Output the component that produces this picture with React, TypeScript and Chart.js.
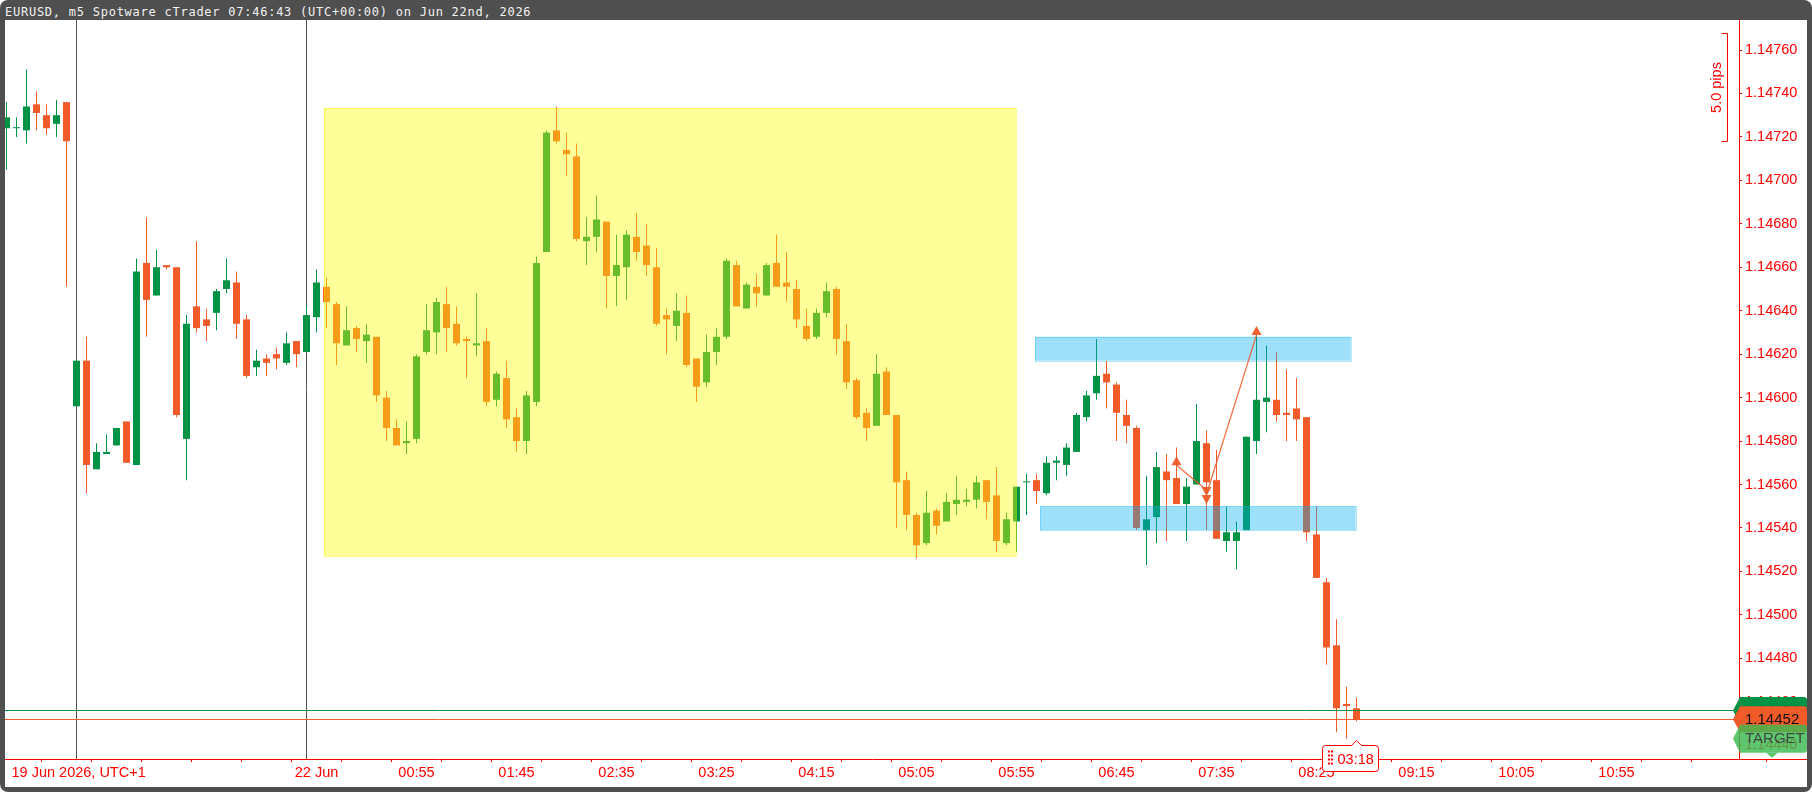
import React, { useEffect, useRef } from 'react';
import { Chart, registerables } from 'chart.js';

Chart.register(...registerables);

const TITLE = 'EURUSD, m5 Spotware cTrader 07:46:43 (UTC+00:00) on Jun 22nd, 2026';

const opens = [
  1.14724, 1.14724, 1.14723, 1.14735, 1.14730, 1.14726, 1.14736, 1.14596, 1.14617, 1.14567,
  1.14574, 1.14578, 1.14589, 1.14569, 1.14662, 1.14647, 1.14661, 1.14660, 1.14581, 1.14642,
  1.14636, 1.14639, 1.14650, 1.14653, 1.14636, 1.14614, 1.14618, 1.14620, 1.14616, 1.14626,
  1.14621, 1.14637, 1.14651, 1.14643, 1.14624, 1.14632, 1.14626, 1.14628, 1.14600, 1.14586,
  1.14579, 1.14581, 1.14621, 1.14630, 1.14643, 1.14634, 1.14627, 1.14624, 1.14626, 1.14599,
  1.14609, 1.14591, 1.14580, 1.14598, 1.14667, 1.14723, 1.14714, 1.14711, 1.14672, 1.14674,
  1.14681, 1.14656, 1.14660, 1.14674, 1.14670, 1.14660, 1.14638, 1.14633, 1.14639, 1.14618,
  1.14607, 1.14621, 1.14628, 1.14661, 1.14641, 1.14651, 1.14647, 1.14662, 1.14653, 1.14650,
  1.14633, 1.14628, 1.14639, 1.14650, 1.14626, 1.14608, 1.14593, 1.14587, 1.14612, 1.14592,
  1.14562, 1.14546, 1.14533, 1.14548, 1.14543, 1.14551, 1.14552, 1.14553, 1.14562, 1.14555,
  1.14533, 1.14543, 1.14561, 1.14562, 1.14556, 1.14570, 1.14569, 1.14575, 1.14591, 1.14602,
  1.14611, 1.14606, 1.14592, 1.14586, 1.14539, 1.14545, 1.14566, 1.14563, 1.14551, 1.14560,
  1.14579, 1.14562, 1.14534, 1.14534, 1.14539, 1.14580, 1.14598, 1.14599, 1.14593, 1.14595,
  1.14591, 1.14537, 1.14515, 1.14486, 1.14459, 1.14457,
];
const highs = [
  1.14736, 1.14729, 1.14751, 1.14741, 1.14735, 1.14737, 1.14736, 1.14617, 1.14628, 1.14579,
  1.14583, 1.14586, 1.14589, 1.14664, 1.14683, 1.14668, 1.14661, 1.14660, 1.14638, 1.14672,
  1.14641, 1.14650, 1.14664, 1.14658, 1.14638, 1.14622, 1.14620, 1.14623, 1.14630, 1.14626,
  1.14642, 1.14659, 1.14655, 1.14644, 1.14642, 1.14633, 1.14634, 1.14628, 1.14603, 1.14590,
  1.14589, 1.14620, 1.14643, 1.14646, 1.14651, 1.14642, 1.14628, 1.14648, 1.14632, 1.14612,
  1.14617, 1.14595, 1.14603, 1.14665, 1.14723, 1.14734, 1.14722, 1.14717, 1.14683, 1.14693,
  1.14681, 1.14675, 1.14677, 1.14685, 1.14680, 1.14669, 1.14641, 1.14648, 1.14647, 1.14618,
  1.14629, 1.14632, 1.14664, 1.14663, 1.14653, 1.14657, 1.14662, 1.14675, 1.14667, 1.14654,
  1.14641, 1.14641, 1.14653, 1.14651, 1.14634, 1.14609, 1.14595, 1.14620, 1.14614, 1.14592,
  1.14566, 1.14547, 1.14557, 1.14549, 1.14556, 1.14564, 1.14558, 1.14564, 1.14562, 1.14568,
  1.14547, 1.14559, 1.14565, 1.14565, 1.14573, 1.14573, 1.14579, 1.14593, 1.14603, 1.14627,
  1.14617, 1.14607, 1.14599, 1.14587, 1.14564, 1.14575, 1.14574, 1.14577, 1.14563, 1.14597,
  1.14585, 1.14576, 1.14550, 1.14543, 1.14582, 1.14629, 1.14624, 1.14621, 1.14613, 1.14609,
  1.14591, 1.14550, 1.14517, 1.14498, 1.14467, 1.14462,
];
const lows = [
  1.14705, 1.14720, 1.14717, 1.14723, 1.14721, 1.14720, 1.14651, 1.14596, 1.14556, 1.14567,
  1.14574, 1.14578, 1.14570, 1.14569, 1.14628, 1.14647, 1.14659, 1.14591, 1.14562, 1.14630,
  1.14626, 1.14631, 1.14648, 1.14627, 1.14609, 1.14610, 1.14610, 1.14613, 1.14615, 1.14614,
  1.14621, 1.14630, 1.14632, 1.14615, 1.14624, 1.14621, 1.14616, 1.14598, 1.14580, 1.14578,
  1.14574, 1.14579, 1.14620, 1.14620, 1.14621, 1.14624, 1.14609, 1.14619, 1.14596, 1.14596,
  1.14586, 1.14575, 1.14574, 1.14596, 1.14667, 1.14717, 1.14702, 1.14672, 1.14661, 1.14667,
  1.14641, 1.14642, 1.14645, 1.14663, 1.14656, 1.14633, 1.14620, 1.14626, 1.14614, 1.14598,
  1.14605, 1.14615, 1.14627, 1.14642, 1.14641, 1.14642, 1.14647, 1.14651, 1.14644, 1.14632,
  1.14626, 1.14627, 1.14637, 1.14620, 1.14604, 1.14590, 1.14580, 1.14587, 1.14592, 1.14540,
  1.14539, 1.14526, 1.14532, 1.14537, 1.14543, 1.14546, 1.14550, 1.14549, 1.14544, 1.14529,
  1.14532, 1.14529, 1.14546, 1.14551, 1.14555, 1.14562, 1.14564, 1.14575, 1.14589, 1.14599,
  1.14595, 1.14580, 1.14579, 1.14539, 1.14523, 1.14533, 1.14534, 1.14551, 1.14534, 1.14560,
  1.14539, 1.14535, 1.14529, 1.14521, 1.14539, 1.14574, 1.14584, 1.14589, 1.14580, 1.14580,
  1.14534, 1.14517, 1.14477, 1.14446, 1.14443, 1.14451,
];
const closes = [
  1.14729, 1.14724, 1.14734, 1.14731, 1.14724, 1.14730, 1.14718, 1.14617, 1.14569, 1.14575,
  1.14575, 1.14586, 1.14570, 1.14658, 1.14645, 1.14660, 1.14660, 1.14592, 1.14634, 1.14632,
  1.14633, 1.14649, 1.14654, 1.14634, 1.14610, 1.14617, 1.14616, 1.14618, 1.14625, 1.14620,
  1.14638, 1.14653, 1.14644, 1.14625, 1.14631, 1.14627, 1.14629, 1.14601, 1.14586, 1.14578,
  1.14580, 1.14619, 1.14631, 1.14644, 1.14632, 1.14625, 1.14626, 1.14625, 1.14598, 1.14611,
  1.14590, 1.14580, 1.14601, 1.14662, 1.14722, 1.14718, 1.14712, 1.14673, 1.14674, 1.14682,
  1.14656, 1.14661, 1.14675, 1.14667, 1.14661, 1.14634, 1.14636, 1.14640, 1.14615, 1.14605,
  1.14621, 1.14628, 1.14663, 1.14642, 1.14652, 1.14648, 1.14661, 1.14651, 1.14651, 1.14636,
  1.14627, 1.14639, 1.14649, 1.14627, 1.14607, 1.14591, 1.14586, 1.14611, 1.14592, 1.14561,
  1.14546, 1.14532, 1.14547, 1.14541, 1.14552, 1.14553, 1.14553, 1.14561, 1.14552, 1.14534,
  1.14544, 1.14559, 1.14561, 1.14557, 1.14570, 1.14571, 1.14577, 1.14592, 1.14601, 1.14610,
  1.14607, 1.14593, 1.14587, 1.14540, 1.14544, 1.14568, 1.14562, 1.14551, 1.14559, 1.14580,
  1.14561, 1.14535, 1.14538, 1.14538, 1.14582, 1.14599, 1.14600, 1.14592, 1.14592, 1.14590,
  1.14538, 1.14517, 1.14485, 1.14457, 1.14458, 1.14452,
];

const priceTicks = [
  1.1444, 1.1446, 1.1448, 1.145, 1.1452, 1.1454, 1.1456, 1.1458, 1.146, 1.1462,
  1.1464, 1.1466, 1.1468, 1.147, 1.1472, 1.1474, 1.1476,
];
const timeTickIdx = [
  1, 6, 11, 16, 21, 26, 31, 36, 41, 46, 51, 56, 61, 66, 71, 76, 81, 86, 91, 96,
  101, 106, 111, 116, 121, 126, 131, 136, 141, 146, 151, 156, 161, 166, 171, 176,
];
const timeLabelIdx = [31, 41, 51, 61, 71, 81, 91, 101, 111, 121, 131, 141, 151, 161];
const timeLabelText = ['22 Jun', '00:55', '01:45', '02:35', '03:25', '04:15', '05:05', '05:55', '06:45', '07:35', '08:25', '09:15', '10:05', '10:55'];
const firstDateLabel = '19 Jun 2026, UTC+1';
const separatorIdx = [7, 30];

const yellowZone = { from: 31.75, to: 100.95, top: 1.147333, bottom: 1.145271 };
const blueZones = [
  { from: 102.85, to: 134.42, top: 1.14628, bottom: 1.14617 },
  { from: 103.35, to: 134.92, top: 1.1455, bottom: 1.14539 },
];
const zigzagIdx = [117, 120, 125];
const zigzagPrice = [1.14573, 1.14551, 1.14633];
const askPrice = 1.14456;
const bidPrice = 1.14452;
const targetPrice = 1.14443;
const rulerTop = 1.14768;
const rulerBottom = 1.14718;
const rulerText = '5.0 pips';
const countdownText = '03:18';

const GREEN = '#009245';
const BEAR = '#f15a29';
const AXIS_RED = '#ff0000';
const FONT = '"Liberation Sans", Arial, sans-serif';
const FONT_SIZE = 14.5;

const candleColors = opens.map((o, i) => (closes[i] >= o ? GREEN : BEAR));

function tri(ctx: CanvasRenderingContext2D, cx: number, tipY: number, dir: number) {
  const w = 10;
  const h = 9;
  ctx.beginPath();
  ctx.moveTo(cx, tipY);
  ctx.lineTo(cx - w / 2, tipY - dir * h);
  ctx.lineTo(cx + w / 2, tipY - dir * h);
  ctx.closePath();
  ctx.fill();
}

function tag(ctx: CanvasRenderingContext2D, yPix: number, left: number, right: number, h: number) {
  const r = 3;
  ctx.beginPath();
  ctx.moveTo(left, yPix);
  ctx.lineTo(left + 7, yPix - h / 2);
  ctx.lineTo(right - r, yPix - h / 2);
  ctx.quadraticCurveTo(right, yPix - h / 2, right, yPix - h / 2 + r);
  ctx.lineTo(right, yPix + h / 2 - r);
  ctx.quadraticCurveTo(right, yPix + h / 2, right - r, yPix + h / 2);
  ctx.lineTo(left + 7, yPix + h / 2);
  ctx.closePath();
  ctx.fill();
}

const overlayPlugin = {
  id: 'overlays',
  beforeDatasetsDraw(chart: any) {
    const { ctx, chartArea: a, scales } = chart;
    const x = scales.x;
    ctx.save();
    ctx.strokeStyle = '#555555';
    ctx.lineWidth = 1;
    for (const i of separatorIdx) {
      const px = x.getPixelForValue(i);
      ctx.beginPath();
      ctx.moveTo(px, a.top);
      ctx.lineTo(px, a.bottom);
      ctx.stroke();
    }
    ctx.restore();
  },
  afterDatasetsDraw(chart: any) {
    const { ctx, chartArea: a, scales } = chart;
    const x = scales.x;
    const y = scales.y;
    ctx.save();
    ctx.beginPath();
    ctx.rect(a.left, a.top, a.right - a.left, a.bottom - a.top);
    ctx.clip();

    {
      const x1 = x.getPixelForValue(yellowZone.from);
      const x2 = x.getPixelForValue(yellowZone.to);
      const y1 = y.getPixelForValue(yellowZone.top);
      const y2 = y.getPixelForValue(yellowZone.bottom);
      ctx.fillStyle = 'rgba(255,255,0,0.4)';
      ctx.fillRect(x1, y1, x2 - x1, y2 - y1);
      ctx.strokeStyle = 'rgba(255,240,0,0.45)';
      ctx.lineWidth = 1;
      ctx.strokeRect(Math.round(x1) + 0.5, Math.round(y1) + 0.5, Math.round(x2 - x1), Math.round(y2 - y1));
    }
    for (const z of blueZones) {
      const x1 = x.getPixelForValue(z.from);
      const x2 = x.getPixelForValue(z.to);
      const y1 = y.getPixelForValue(z.top);
      const y2 = y.getPixelForValue(z.bottom);
      ctx.fillStyle = 'rgba(0,174,239,0.38)';
      ctx.fillRect(x1, y1, x2 - x1, y2 - y1);
      ctx.strokeStyle = 'rgba(0,174,239,0.3)';
      ctx.lineWidth = 1;
      ctx.strokeRect(Math.round(x1) + 0.5, Math.round(y1) + 0.5, Math.round(x2 - x1), Math.round(y2 - y1));
    }
    {
      const ax = x.getPixelForValue(zigzagIdx[0]);
      const ay = y.getPixelForValue(zigzagPrice[0]);
      const bx = x.getPixelForValue(zigzagIdx[1]);
      const by = y.getPixelForValue(zigzagPrice[1]);
      const cx = x.getPixelForValue(zigzagIdx[2]);
      const cy = y.getPixelForValue(zigzagPrice[2]);
      ctx.strokeStyle = 'rgba(241,90,41,0.9)';
      ctx.fillStyle = 'rgba(241,90,41,0.95)';
      ctx.lineWidth = 1.2;
      ctx.beginPath();
      ctx.moveTo(ax, ay + 9);
      ctx.lineTo(bx, by - 14);
      ctx.stroke();
      ctx.beginPath();
      ctx.moveTo(bx + 2, by - 16);
      ctx.lineTo(cx, cy + 9);
      ctx.stroke();
      tri(ctx, ax, ay, -1);
      tri(ctx, bx, by, 1);
      tri(ctx, bx, by - 8, 1);
      tri(ctx, cx, cy, -1);
    }
    ctx.lineWidth = 1;
    ctx.strokeStyle = GREEN;
    const askY = Math.round(y.getPixelForValue(askPrice)) + 0.5;
    ctx.beginPath();
    ctx.moveTo(a.left, askY);
    ctx.lineTo(a.right, askY);
    ctx.stroke();
    ctx.strokeStyle = BEAR;
    const bidY = Math.round(y.getPixelForValue(bidPrice)) + 0.5;
    ctx.beginPath();
    ctx.moveTo(a.left, bidY);
    ctx.lineTo(a.right, bidY);
    ctx.stroke();
    ctx.restore();
  },
  afterDraw(chart: any) {
    const { ctx, chartArea: a, scales, width } = chart;
    const x = scales.x;
    const y = scales.y;
    ctx.save();
    ctx.strokeStyle = AXIS_RED;
    ctx.lineWidth = 1;
    const axY = Math.round(a.bottom) + 0.5;
    ctx.beginPath();
    ctx.moveTo(a.right, axY);
    ctx.lineTo(width, axY);
    ctx.stroke();
    for (const t of timeTickIdx) {
      if (t <= x.max) continue;
      const px = Math.round(x.getPixelForValue(t)) + 0.5;
      ctx.beginPath();
      ctx.moveTo(px, a.bottom);
      ctx.lineTo(px, a.bottom + 3);
      ctx.stroke();
    }
    ctx.fillStyle = AXIS_RED;
    ctx.font = `${FONT_SIZE}px ${FONT}`;
    ctx.textBaseline = 'middle';
    ctx.textAlign = 'left';
    ctx.fillText(firstDateLabel, a.left + 6.5, a.bottom + 3 + 2 + FONT_SIZE * 0.6);

    {
      const rx = Math.round(a.right - 12) + 0.5;
      const y1 = Math.round(y.getPixelForValue(rulerTop)) + 0.5;
      const y2 = Math.round(y.getPixelForValue(rulerBottom)) + 0.5;
      ctx.strokeStyle = AXIS_RED;
      ctx.beginPath();
      ctx.moveTo(rx - 6, y1);
      ctx.lineTo(rx, y1);
      ctx.lineTo(rx, y2);
      ctx.lineTo(rx - 6, y2);
      ctx.stroke();
      ctx.save();
      ctx.translate(a.right - 22.5, (y1 + y2) / 2);
      ctx.rotate(-Math.PI / 2);
      ctx.textAlign = 'center';
      ctx.textBaseline = 'middle';
      ctx.fillStyle = AXIS_RED;
      ctx.font = `${FONT_SIZE}px ${FONT}`;
      ctx.fillText(rulerText, 0, 0);
      ctx.restore();
    }

    const left = a.right - 6;
    const right = width;
    ctx.font = `${FONT_SIZE + 0.5}px ${FONT}`;
    ctx.textAlign = 'left';
    ctx.textBaseline = 'middle';
    const askY = y.getPixelForValue(askPrice);
    ctx.fillStyle = GREEN;
    tag(ctx, askY, left, right, 27);
    ctx.fillStyle = '#111';
    ctx.fillText(askPrice.toFixed(5), a.right + 6, askY + 1);
    const bidY = y.getPixelForValue(bidPrice);
    ctx.fillStyle = BEAR;
    tag(ctx, bidY, left, right, 26);
    ctx.fillStyle = '#111';
    ctx.fillText(bidPrice.toFixed(5), a.right + 6, bidY + 1);
    const tY = y.getPixelForValue(targetPrice);
    ctx.fillStyle = 'rgba(60,185,80,0.82)';
    tag(ctx, tY, left, right, 28);
    ctx.beginPath();
    ctx.moveTo(right - 41, tY + 14);
    ctx.lineTo(right - 35, tY + 19);
    ctx.lineTo(right - 29, tY + 14);
    ctx.closePath();
    ctx.fill();
    ctx.fillStyle = 'rgba(60,60,60,0.9)';
    ctx.fillText('TARGET', a.right + 6, tY);

    {
      const lx = x.getPixelForValue(opens.length - 1);
      const bx1 = Math.round(lx - 35) + 0.5;
      const bx2 = Math.round(lx + 21) + 0.5;
      const by1 = Math.round(a.bottom - 14) + 0.5;
      const by2 = by1 + 26;
      const px = Math.round(lx - 1) + 0.5;
      const r = 3;
      ctx.beginPath();
      ctx.moveTo(bx1 + r, by1);
      ctx.lineTo(px - 5, by1);
      ctx.lineTo(px, by1 - 5);
      ctx.lineTo(px + 5, by1);
      ctx.lineTo(bx2 - r, by1);
      ctx.quadraticCurveTo(bx2, by1, bx2, by1 + r);
      ctx.lineTo(bx2, by2 - r);
      ctx.quadraticCurveTo(bx2, by2, bx2 - r, by2);
      ctx.lineTo(bx1 + r, by2);
      ctx.quadraticCurveTo(bx1, by2, bx1, by2 - r);
      ctx.lineTo(bx1, by1 + r);
      ctx.quadraticCurveTo(bx1, by1, bx1 + r, by1);
      ctx.closePath();
      ctx.fillStyle = '#ffffff';
      ctx.fill();
      ctx.strokeStyle = AXIS_RED;
      ctx.lineWidth = 1;
      ctx.stroke();
      ctx.fillStyle = AXIS_RED;
      for (let r2 = 0; r2 < 4; r2++) {
        for (let c2 = 0; c2 < 2; c2++) {
          ctx.fillRect(Math.round(bx1) + 5 + c2 * 3, by1 + 5 + r2 * 4, 2, 2);
        }
      }
      ctx.font = `${FONT_SIZE}px ${FONT}`;
      ctx.textAlign = 'left';
      ctx.textBaseline = 'middle';
      ctx.fillText(countdownText, bx1 + 15, (by1 + by2) / 2 + 1);
    }
    ctx.restore();
  },
};

export default function App() {
  const ref = useRef<HTMLCanvasElement>(null);
  useEffect(() => {
    document.body.style.margin = '0';
    const canvas = ref.current;
    if (!canvas) return;
    const chart = new Chart(canvas, {
      type: 'bar',
      data: {
        datasets: [
          {
            label: 'body',
            data: opens.map((o, i) => ({ x: i, y: [o, closes[i]] })) as any,
            backgroundColor: candleColors,
            barThickness: 7,
            grouped: false,
            minBarLength: 1,
            borderWidth: 0,
            inflateAmount: 0,
            order: 1,
          } as any,
          {
            label: 'wick',
            data: lows.map((l, i) => ({ x: i, y: [l, highs[i]] })) as any,
            backgroundColor: candleColors,
            barThickness: 1,
            grouped: false,
            minBarLength: 1,
            borderWidth: 0,
            inflateAmount: 0,
            order: 2,
          } as any,
        ],
      },
      options: {
        responsive: false,
        maintainAspectRatio: false,
        devicePixelRatio: 1,
        animation: false,
        events: [],
        layout: { padding: 0 },
        plugins: { legend: { display: false }, tooltip: { enabled: false } },
        scales: {
          x: {
            type: 'linear',
            min: -0.15,
            max: 173.25,
            offset: false,
            afterBuildTicks: (s: any) => {
              s.ticks = timeTickIdx.filter((v) => v <= 173.25).map((v) => ({ value: v }));
            },
            afterFit: (s: any) => {
              s.height = 28;
              s.paddingLeft = 0;
              s.paddingRight = 0;
            },
            grid: { drawOnChartArea: false, drawTicks: true, tickLength: 3, color: AXIS_RED, lineWidth: 1 },
            border: { display: true, color: AXIS_RED, width: 1 },
            ticks: {
              autoSkip: false,
              maxRotation: 0,
              minRotation: 0,
              padding: 2,
              color: AXIS_RED,
              font: { family: FONT, size: FONT_SIZE },
              callback: (v: any) => {
                const k = timeLabelIdx.indexOf(Number(v));
                return k >= 0 ? timeLabelText[k] : '';
              },
            },
          } as any,
          y: {
            type: 'linear',
            position: 'right',
            min: 1.14433648,
            max: 1.14773809,
            afterBuildTicks: (s: any) => {
              s.ticks = priceTicks.map((v) => ({ value: v }));
            },
            afterFit: (s: any) => {
              s.width = 68;
              s.paddingTop = 0;
              s.paddingBottom = 0;
            },
            grid: { drawOnChartArea: false, drawTicks: true, tickLength: 3, color: AXIS_RED, lineWidth: 1 },
            border: { display: true, color: AXIS_RED, width: 1 },
            ticks: {
              padding: 3,
              color: AXIS_RED,
              font: { family: FONT, size: FONT_SIZE },
              callback: (v: any) => Number(v).toFixed(5),
            },
          } as any,
        },
      },
      plugins: [overlayPlugin],
    });
    return () => chart.destroy();
  }, []);

  return (
    <div
      style={{
        position: 'absolute',
        left: 0,
        top: 0,
        width: 1812,
        height: 792,
        background: '#4f4f4f',
        borderRadius: 8,
        overflow: 'hidden',
      }}
    >
      <div
        style={{
          position: 'absolute',
          left: 5,
          top: 1.5,
          height: 20,
          lineHeight: '20px',
          color: '#f2f2f2',
          fontFamily: '"DejaVu Sans Mono", monospace',
          fontSize: 12,
          letterSpacing: '0.75px',
          whiteSpace: 'pre',
        }}
      >
        {TITLE}
      </div>
      <div style={{ position: 'absolute', left: 5, top: 20, width: 1802, height: 767, background: '#ffffff' }}>
        <canvas ref={ref} width={1802} height={767} style={{ display: 'block', width: 1802, height: 767 }} />
      </div>
    </div>
  );
}
